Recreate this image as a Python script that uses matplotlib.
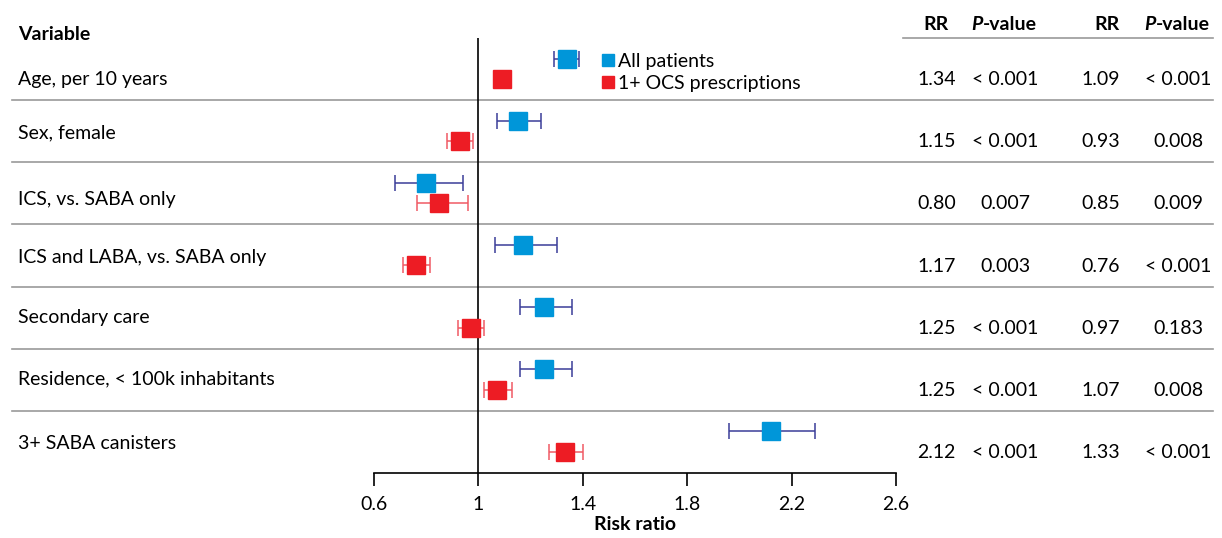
import numpy as np
import matplotlib.pyplot as plt
from matplotlib.lines import Line2D
from matplotlib.transforms import blended_transform_factory

plt.rcParams['font.family'] = ['Lato', 'DejaVu Sans']

variables = ["Age, per 10 years", "Sex, female", "ICS, vs. SABA only",
             "ICS and LABA, vs. SABA only", "Secondary care",
             "Residence, < 100k inhabitants", "3+ SABA canisters"]

# all patients
all_rr = np.array([1.34, 1.15, 0.80, 1.17, 1.25, 1.25, 2.12])
all_lo = np.array([1.29, 1.07, 0.68, 1.065, 1.16, 1.16, 1.96])
all_hi = np.array([1.385, 1.24, 0.94, 1.30, 1.36, 1.36, 2.29])
all_p = ["< 0.001", "< 0.001", "0.007", "0.003", "< 0.001", "< 0.001", "< 0.001"]

# 1+ OCS prescriptions
ocs_rr = np.array([1.09, 0.93, 0.85, 0.76, 0.97, 1.07, 1.33])
ocs_lo = np.array([1.07, 0.88, 0.765, 0.71, 0.92, 1.02, 1.27])
ocs_hi = np.array([1.11, 0.98, 0.96, 0.815, 1.02, 1.13, 1.40])
ocs_p = ["< 0.001", "0.008", "0.009", "< 0.001", "0.183", "0.008", "< 0.001"]

blue = "#0096d9"
blue_err = "#3b3d98"
red = "#ed1c24"
red_err = "#f05a64"
grey = "#9a9a9a"

W, H = 1222, 538
fig = plt.figure(figsize=(W / 100, H / 100), dpi=100)
ax = fig.add_axes([374 / W, 1 - 473 / H, (896 - 374) / W, (473 - 38) / H])
ax.set_xlim(0.6, 2.6)
ax.set_ylim(len(variables), 0)

rows = np.arange(len(variables))
ax.axvline(1, color="black", lw=1.2, zorder=1)

ax.errorbar(all_rr, rows + 0.33, xerr=[all_rr - all_lo, all_hi - all_rr],
            fmt="s", color=blue, ms=12.5, mec=blue, ecolor=blue_err,
            elinewidth=1.1, capsize=5.8, capthick=1.1, zorder=3)
ax.errorbar(ocs_rr, rows + 0.66, xerr=[ocs_rr - ocs_lo, ocs_hi - ocs_rr],
            fmt="s", color=red, ms=12.5, mec=red, ecolor=red_err,
            elinewidth=1.1, capsize=5.8, capthick=1.1, zorder=3)

# row separators and table text
tr = blended_transform_factory(fig.transFigure, ax.transData)
for i in range(1, len(variables)):
    ax.add_line(Line2D([12 / W, 1213 / W], [i, i], transform=tr, color=grey,
                       lw=1.2, clip_on=False, zorder=0))
ax.add_line(Line2D([903 / W, 1213 / W], [0, 0], transform=tr, color=grey,
                   lw=1.2, clip_on=False, zorder=0))

fs = 14
fig.text(18 / W, 1 - 35 / H, "Variable", fontsize=fs, fontweight="bold",
         va="center", ha="left")
label_off = [0.67, 0.53, 0.6, 0.53, 0.49, 0.49, 0.52]
for i, name in enumerate(variables):
    ax.text(18 / W, i + label_off[i], name, transform=tr, fontsize=fs,
            va="center", ha="left")
    y = i + 0.67
    ax.text(956 / W, y, f"{all_rr[i]:.2f}", transform=tr, fontsize=fs,
            va="center", ha="right")
    ax.text(1005 / W, y, all_p[i], transform=tr, fontsize=fs,
            va="center", ha="center")
    ax.text(1120 / W, y, f"{ocs_rr[i]:.2f}", transform=tr, fontsize=fs,
            va="center", ha="right")
    ax.text(1178 / W, y, ocs_p[i], transform=tr, fontsize=fs,
            va="center", ha="center")

# table header
hy = 1 - 25 / H
for xrr, xp in [(936, 983), (1107, 1156)]:
    fig.text(xrr / W, hy, "RR", fontsize=fs, fontweight="bold",
             ha="center", va="center")
    fig.text(xp / W, hy, "P", fontsize=fs, fontweight="bold",
             fontstyle="italic", ha="right", va="center")
    fig.text(xp / W, hy, "-value", fontsize=fs, fontweight="bold",
             ha="left", va="center")

# legend
handles = [Line2D([], [], ls="none", marker="s", ms=8.8, color=blue),
           Line2D([], [], ls="none", marker="s", ms=8.8, color=red)]
ax.legend(handles, ["All patients", "1+ OCS prescriptions"], loc="upper left",
          bbox_to_anchor=(601 / W, 1 - 53 / H), bbox_transform=fig.transFigure,
          frameon=False, fontsize=fs, handlelength=0.7, handletextpad=0.2,
          borderpad=0, borderaxespad=0, labelspacing=0.25)

# axis
for s in ["left", "right", "top"]:
    ax.spines[s].set_visible(False)
ax.spines["bottom"].set_linewidth(1.2)
ax.set_yticks([])
ax.set_xticks([0.6, 1.0, 1.4, 1.8, 2.2, 2.6])
ax.set_xticklabels(["0.6", "1", "1.4", "1.8", "2.2", "2.6"])
ax.tick_params(axis="x", direction="out", length=9.5, width=1.2,
               labelsize=fs, pad=7)
ax.set_xlabel("Risk ratio", fontsize=fs, fontweight="bold", labelpad=2)

fig.savefig("out.png", dpi=100)
